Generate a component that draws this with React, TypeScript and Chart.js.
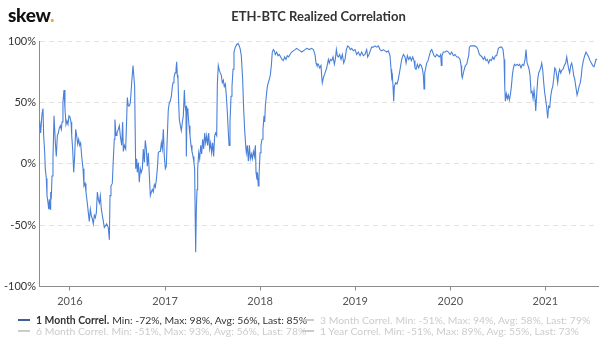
import React, { useEffect, useRef } from 'react';
import { Chart, registerables } from 'chart.js';

Chart.register(...registerables);

// Decimal-year timestamps of the 1 Month correlation readings
const dates = [
  2015.681, 2015.691, 2015.705, 2015.716, 2015.723, 2015.734, 2015.740, 2015.751, 2015.758, 2015.769,
  2015.776, 2015.783, 2015.790, 2015.797, 2015.804, 2015.811, 2015.821, 2015.832, 2015.846, 2015.856,
  2015.867, 2015.877, 2015.888, 2015.898, 2015.909, 2015.916, 2015.926, 2015.937, 2015.947, 2015.958,
  2015.968, 2015.979, 2015.989, 2016.000, 2016.011, 2016.018, 2016.028, 2016.039, 2016.049, 2016.060,
  2016.070, 2016.081, 2016.091, 2016.102, 2016.112, 2016.123, 2016.137, 2016.147, 2016.158, 2016.168,
  2016.182, 2016.193, 2016.203, 2016.214, 2016.224, 2016.235, 2016.245, 2016.256, 2016.266, 2016.277,
  2016.288, 2016.298, 2016.309, 2016.319, 2016.330, 2016.340, 2016.351, 2016.361,
  2016.386, 2016.403, 2016.414, 2016.421, 2016.431, 2016.445, 2016.456, 2016.466, 2016.473, 2016.484,
  2016.494, 2016.508, 2016.519, 2016.529, 2016.544, 2016.554, 2016.561, 2016.572, 2016.586, 2016.596,
  2016.603, 2016.614, 2016.624, 2016.635, 2016.649, 2016.663, 2016.673, 2016.680, 2016.691, 2016.701,
  2016.708, 2016.719, 2016.729, 2016.740, 2016.750, 2016.761, 2016.771, 2016.782, 2016.792, 2016.803,
  2016.813, 2016.824, 2016.835, 2016.845, 2016.856, 2016.866, 2016.877, 2016.887, 2016.898, 2016.908,
  2016.919, 2016.929, 2016.940, 2016.950, 2016.961, 2016.971, 2016.982, 2016.992, 2017.003, 2017.013,
  2017.024, 2017.034, 2017.045, 2017.055, 2017.066, 2017.077,
  2017.084, 2017.094, 2017.105, 2017.115, 2017.122, 2017.129, 2017.136, 2017.143, 2017.150, 2017.161,
  2017.171, 2017.182, 2017.192, 2017.203, 2017.210, 2017.220, 2017.224, 2017.231, 2017.241, 2017.252,
  2017.262, 2017.273, 2017.283, 2017.294, 2017.304, 2017.311, 2017.318, 2017.322, 2017.329, 2017.336,
  2017.343, 2017.354, 2017.364, 2017.375, 2017.385, 2017.396, 2017.406, 2017.417, 2017.427, 2017.438,
  2017.448, 2017.459, 2017.469, 2017.480, 2017.490, 2017.501, 2017.511, 2017.522, 2017.532, 2017.543,
  2017.550, 2017.560, 2017.571, 2017.581, 2017.592, 2017.602, 2017.613, 2017.623, 2017.634, 2017.645,
  2017.655, 2017.666, 2017.673, 2017.683, 2017.694, 2017.704, 2017.715, 2017.725, 2017.739, 2017.753,
  2017.767, 2017.781, 2017.792,
  2017.802, 2017.816, 2017.827, 2017.837, 2017.848, 2017.855, 2017.865, 2017.876, 2017.887, 2017.897,
  2017.908, 2017.918, 2017.929, 2017.939, 2017.950, 2017.957, 2017.967, 2017.974, 2017.981, 2017.988,
  2017.999, 2018.009, 2018.020, 2018.030, 2018.041, 2018.048, 2018.055, 2018.065, 2018.076, 2018.086,
  2018.097, 2018.107, 2018.118, 2018.128, 2018.139, 2018.149, 2018.160, 2018.174, 2018.188, 2018.202,
  2018.216, 2018.230, 2018.244, 2018.258, 2018.272, 2018.286, 2018.300, 2018.314, 2018.332, 2018.349,
  2018.367, 2018.384, 2018.402, 2018.420, 2018.437, 2018.455, 2018.472, 2018.490, 2018.518,
  2018.542, 2018.560, 2018.577, 2018.588, 2018.598, 2018.612, 2018.626, 2018.640, 2018.647, 2018.654,
  2018.665, 2018.683, 2018.700, 2018.718, 2018.728, 2018.739, 2018.753, 2018.767, 2018.781, 2018.791,
  2018.802, 2018.812, 2018.823, 2018.837, 2018.851, 2018.865, 2018.879, 2018.893, 2018.907, 2018.921,
  2018.935, 2018.949, 2018.963, 2018.981, 2018.998, 2019.016, 2019.033, 2019.051, 2019.068, 2019.086,
  2019.103, 2019.121, 2019.131, 2019.145, 2019.159, 2019.173, 2019.191, 2019.209, 2019.226, 2019.244,
  2019.261, 2019.279, 2019.296, 2019.314, 2019.331, 2019.349, 2019.366, 2019.377, 2019.384, 2019.391,
  2019.398, 2019.405, 2019.412, 2019.426, 2019.440, 2019.454, 2019.472, 2019.489,
  2019.507, 2019.524, 2019.535, 2019.549, 2019.563, 2019.577, 2019.591, 2019.605, 2019.619, 2019.629,
  2019.640, 2019.654, 2019.668, 2019.682, 2019.696, 2019.707, 2019.717, 2019.724, 2019.731, 2019.742,
  2019.752, 2019.766, 2019.780, 2019.794, 2019.805, 2019.815, 2019.829, 2019.843, 2019.857, 2019.871,
  2019.885, 2019.899, 2019.906, 2019.913, 2019.927, 2019.945, 2019.962, 2019.980, 2019.998, 2020.015,
  2020.033, 2020.050, 2020.068, 2020.085, 2020.103, 2020.114, 2020.120, 2020.127, 2020.138, 2020.148,
  2020.159, 2020.173, 2020.184, 2020.194, 2020.201, 2020.215, 2020.236, 2020.257, 2020.278, 2020.292,
  2020.306, 2020.320, 2020.334, 2020.348, 2020.362, 2020.376, 2020.390, 2020.404, 2020.418, 2020.432,
  2020.446, 2020.460, 2020.474,
  2020.488, 2020.506, 2020.524, 2020.541, 2020.555, 2020.566, 2020.573, 2020.580, 2020.590, 2020.601,
  2020.611, 2020.622, 2020.632, 2020.643, 2020.653, 2020.664, 2020.674, 2020.688, 2020.702, 2020.716,
  2020.730, 2020.744, 2020.758, 2020.773, 2020.787, 2020.797, 2020.808, 2020.818, 2020.829, 2020.839,
  2020.850, 2020.860, 2020.871, 2020.881, 2020.892, 2020.899, 2020.909, 2020.920, 2020.930, 2020.941,
  2020.951, 2020.962, 2020.972, 2020.983, 2020.993, 2021.004, 2021.014, 2021.025, 2021.035, 2021.046,
  2021.057, 2021.067, 2021.078, 2021.088, 2021.099, 2021.109, 2021.120, 2021.130, 2021.141, 2021.151,
  2021.162, 2021.172, 2021.186, 2021.200, 2021.214, 2021.225, 2021.235, 2021.246, 2021.256, 2021.267,
  2021.277, 2021.288, 2021.298, 2021.309, 2021.320, 2021.334, 2021.344, 2021.355, 2021.365, 2021.376,
  2021.386, 2021.400, 2021.414, 2021.428, 2021.442, 2021.456, 2021.470, 2021.484, 2021.498, 2021.512,
  2021.523, 2021.533, 2021.544,
];

// 1 Month realized correlation, percent
const oneMonthCorrel = [
  35, 25, 40, 45, 23, 9, -4, -12, -26, -32,
  -37, -29, -37, -23, -26, -10, 4, 39, 17, 6,
  23, 25, 29, 31, 28, 34, 50, 60, 45, 32,
  35, 32, 39, 38, 34, 23, 12, -7, 6, 28,
  23, 16, 20, 15, 17, 6, -4, -18, -16, -23,
  -32, -40, -47, -37, -42, -45, -49, -42, -44, -40,
  -23, -29, -32, -26, -37, -42, -47, -52,
  -49, -52, -62, -26, -18, -16, 4, 20, 36, 23,
  25, 28, 31, 23, 15, 34, 10, 15, 12, 36,
  54, 47, 47, 50, 66, 80, 80, 63, -4, 4,
  -7, 1, -15, -4, -7, -4, 12, 1, 19, 12,
  -2, 9, -10, -26, -23, -21, -23, -17, -19, -13,
  -4, 9, 10, 10, 17, 12, 28, 6, -4, -2,
  23, 44, 50, 51, 55, 63,
  66, 70, 74, 77, 83, 72, 69, 50, 36, 31,
  27, 34, 39, 60, 47, 42, 6, 45, 42, 31,
  23, 15, 10, 6, 1, -4, -48, -72, -37, -21,
  -4, 9, 4, 15, 8, 20, 12, 25, 17, 23,
  15, 25, 12, 17, 9, 17, 6, 23, 25, 23,
  65, 80, 76, 74, 72, 66, 68, 63, 65, 55,
  42, 25, 15, 34, 55, 63, 77, 91, 95, 97,
  98, 96, 93,
  88, 69, 44, 28, 15, 9, 15, 2, 15, 4,
  8, 4, 10, 6, 15, -7, -13, -10, -18, -11,
  9, 15, 20, 28, 39, 34, 47, 55, 63, 66,
  69, 72, 80, 91, 93, 92, 89, 91, 88, 89,
  87, 85, 84, 87, 85, 88, 87, 89, 91, 92,
  93, 94, 93, 92, 91, 92, 93, 94, 93,
  94, 93, 89, 82, 80, 81, 78, 80, 72, 66,
  70, 74, 78, 85, 82, 85, 84, 87, 81, 85,
  93, 88, 87, 89, 85, 89, 82, 85, 93, 96,
  95, 93, 94, 92, 93, 89, 91, 88, 91, 88,
  89, 93, 87, 89, 92, 95, 95, 96, 95, 96,
  93, 92, 93, 92, 91, 92, 88, 77, 70, 72,
  63, 51, 63, 66, 65, 69, 77, 85,
  89, 87, 82, 88, 85, 87, 84, 87, 84, 78,
  77, 81, 78, 81, 80, 77, 72, 61, 74, 78,
  82, 84, 88, 92, 93, 91, 88, 87, 89, 88,
  87, 89, 80, 88, 91, 91, 92, 91, 89, 91,
  88, 89, 87, 87, 85, 80, 72, 70, 74, 77,
  80, 81, 85, 88, 95, 96, 96, 96, 95, 93,
  89, 88, 87, 85, 87, 84, 85, 82, 85, 84,
  87, 85, 88,
  88, 94, 95, 95, 93, 85, 63, 51, 57, 53,
  56, 52, 56, 63, 72, 78, 81, 80, 81, 80,
  81, 78, 81, 80, 85, 93, 82, 80, 77, 72,
  58, 59, 53, 60, 52, 43, 56, 69, 74, 76,
  78, 82, 77, 66, 58, 52, 46, 37, 47, 46,
  55, 60, 63, 69, 78, 77, 72, 66, 74, 77,
  74, 76, 77, 80, 82, 87, 82, 77, 74, 80,
  82, 78, 72, 69, 63, 56, 59, 63, 65, 70,
  78, 84, 88, 91, 89, 87, 84, 82, 80, 79,
  82, 85, 85,
];

const yearTicks = [2016, 2017, 2018, 2019, 2020, 2021];
const xMin = 2015.674;
const xMax = 2021.554;

const titleText = 'ETH-BTC Realized Correlation';
const legendNames = ['1 Month Correl.', '3 Month Correl.', '6 Month Correl.', '1 Year Correl.'];
const legendStats = [
  'Min: -72%, Max: 98%, Avg: 56%, Last: 85%',
  'Min: -51%, Max: 94%, Avg: 58%, Last: 79%',
  'Min: -51%, Max: 93%, Avg: 56%, Last: 78%',
  'Min: -51%, Max: 89%, Avg: 55%, Last: 73%',
];
const legendActive = [true, false, false, false];

const LINE_COLOR = '#4a80d8';
const FONT = 'Lato, "Open Sans", sans-serif';

export default function App() {
  const canvasRef = useRef<HTMLCanvasElement | null>(null);

  useEffect(() => {
    if (!canvasRef.current) return;
    const chart = new Chart(canvasRef.current, {
      type: 'line',
      data: {
        datasets: [
          {
            label: legendNames[0],
            data: dates.map((d, i) => ({ x: d, y: oneMonthCorrel[i] })),
            borderColor: LINE_COLOR,
            borderWidth: 1.1,
            pointRadius: 0,
            fill: false,
            tension: 0,
          },
        ],
      },
      options: {
        animation: false,
        responsive: false,
        maintainAspectRatio: false,
        layout: { padding: { top: 41, right: 2, bottom: 30, left: 0 } },
        plugins: {
          legend: { display: false },
          title: { display: false },
          tooltip: { enabled: false },
        },
        scales: {
          x: {
            type: 'linear',
            min: xMin,
            max: xMax,
            afterBuildTicks: (scale: any) => {
              scale.ticks = yearTicks.map((v) => ({ value: v }));
            },
            afterFit: (scale: any) => {
              scale.height = 20.5;
            },
            ticks: {
              autoSkip: false,
              maxRotation: 0,
              padding: 4,
              color: '#555',
              font: { family: FONT, size: 11 },
              callback: (v: any) => String(v),
            },
            grid: {
              drawOnChartArea: false,
              drawTicks: true,
              tickLength: 4,
              color: '#8c8c8c',
            },
            border: { display: true, color: '#8c8c8c' },
          },
          y: {
            min: -100,
            max: 100,
            afterFit: (scale: any) => {
              scale.width = 39;
            },
            ticks: {
              stepSize: 50,
              padding: 3,
              color: '#333',
              font: { family: FONT, size: 11 },
              callback: (v: any) => v + '%',
            },
            grid: {
              drawTicks: false,
              color: (ctx: any) => (ctx.tick && ctx.tick.value === -100 ? 'rgba(0,0,0,0)' : '#e3e3e3'),
            },
            border: { display: true, color: '#8c8c8c', dash: [5, 4] },
          },
        },
      },
    });
    return () => chart.destroy();
  }, []);

  const legendPos = [
    { left: 18, top: 314 },
    { left: 302, top: 314 },
    { left: 18, top: 325 },
    { left: 302, top: 325 },
  ];

  return (
    <div
      style={{
        position: 'absolute',
        left: 0,
        top: 0,
        width: 600,
        height: 337,
        background: '#fff',
        overflow: 'hidden',
        fontFamily: FONT,
      }}
    >
      <canvas ref={canvasRef} width={600} height={337} style={{ position: 'absolute', left: 0, top: 0 }} />
      <div
        style={{
          position: 'absolute',
          left: 8,
          top: 3,
          fontSize: 19,
          fontWeight: 900,
          color: '#111',
          letterSpacing: -0.3,
          lineHeight: '24px',
        }}
      >
        skew<span style={{ color: '#e9a83a' }}>.</span>
      </div>
      <div
        style={{
          position: 'absolute',
          left: 39,
          width: 559,
          top: 8,
          textAlign: 'center',
          fontSize: 13,
          fontWeight: 700,
          color: '#333',
          lineHeight: '16px',
        }}
      >
        {titleText}
      </div>
      {legendNames.map((name, i) => (
        <div
          key={name}
          style={{
            position: 'absolute',
            left: legendPos[i].left,
            top: legendPos[i].top,
            whiteSpace: 'nowrap',
            fontSize: 10.4,
            lineHeight: '12px',
            color: legendActive[i] ? '#333' : '#cccccc',
            display: 'flex',
            alignItems: 'center',
          }}
        >
          <span
            style={{
              display: 'inline-block',
              width: 12,
              height: 1.5,
              background: legendActive[i] ? '#3f5f99' : '#cccccc',
              marginRight: 6,
            }}
          />
          <span style={{ fontWeight: legendActive[i] ? 700 : 400 }}>{name}</span>
          <span style={{ marginLeft: 3 }}>{legendStats[i]}</span>
        </div>
      ))}
    </div>
  );
}
